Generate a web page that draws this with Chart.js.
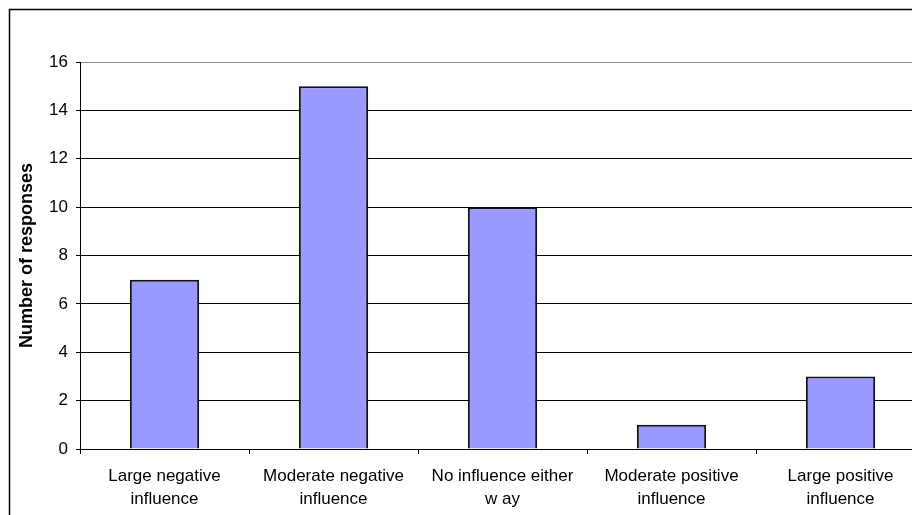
<!DOCTYPE html>
<html lang="en">
<head>
<meta charset="UTF-8">
<title>Number of responses</title>
<script src="https://cdn.jsdelivr.net/npm/chart.js"></script>
<style>
    html, body {
        margin: 0;
        padding: 0;
        background: #fff;
        overflow: hidden;
    }
</style>
</head>
<body>
<canvas id="myChart" width="940" height="515"></canvas>
<script>
// Datos del gráfico
const categories = [
    ['Large negative', 'influence'],
    ['Moderate negative', 'influence'],
    ['No influence either', 'w ay'],
    ['Moderate positive', 'influence'],
    ['Large positive', 'influence']
];
const responses = [7, 15, 10, 1, 3];
const yTicks = [0, 2, 4, 6, 8, 10, 12, 14, 16];

const fontFamily = 'Arial, "Liberation Sans", sans-serif';

// Marco exterior del gráfico
const outerBorder = {
    id: 'outerBorder',
    afterDraw(chart) {
        const ctx = chart.ctx;
        ctx.save();
        ctx.strokeStyle = '#000';
        ctx.lineWidth = 1.5;
        ctx.strokeRect(9.5, 9.5, 2000, 2000);
        ctx.restore();
    }
};

const ctx = document.getElementById('myChart').getContext('2d');
const myChart = new Chart(ctx, {
    type: 'bar',
    data: {
        labels: categories,
        datasets: [{
            data: responses,
            backgroundColor: '#9999FF',
            borderColor: '#111',
            borderWidth: 2,
            barPercentage: 0.41,
            categoryPercentage: 1
        }]
    },
    options: {
        responsive: false,
        animation: false,
        layout: { padding: { left: 0, top: 62, right: 15, bottom: 0 } },
        plugins: {
            legend: { display: false },
            tooltip: { enabled: false }
        },
        scales: {
            x: {
                grid: {
                    offset: true,
                    drawOnChartArea: false,
                    tickLength: 5,
                    color: '#000'
                },
                border: { color: '#000', width: 1 },
                ticks: {
                    color: '#000',
                    padding: 11,
                    maxRotation: 0,
                    autoSkip: false,
                    font: { family: fontFamily, size: 17, lineHeight: 1.35 }
                },
                afterFit(scale) { scale.height = 66; }
            },
            y: {
                min: 0,
                max: 16,
                afterBuildTicks(scale) {
                    scale.ticks = yTicks.map(v => ({ value: v }));
                },
                grid: {
                    color: ctx => (ctx.tick && ctx.tick.value === 16) ? '#888' : '#000',
                    tickColor: '#000',
                    tickLength: 4,
                    lineWidth: 1
                },
                border: { color: '#000', width: 1 },
                ticks: {
                    color: '#000',
                    padding: 8,
                    font: { family: fontFamily, size: 17 }
                },
                title: {
                    display: true,
                    text: 'Number of responses',
                    color: '#000',
                    padding: { top: 16, bottom: 0 },
                    font: { family: fontFamily, size: 18, weight: 'bold' }
                },
                afterFit(scale) { scale.width = 80; }
            }
        }
    },
    plugins: [outerBorder]
});
</script>
</body>
</html>
